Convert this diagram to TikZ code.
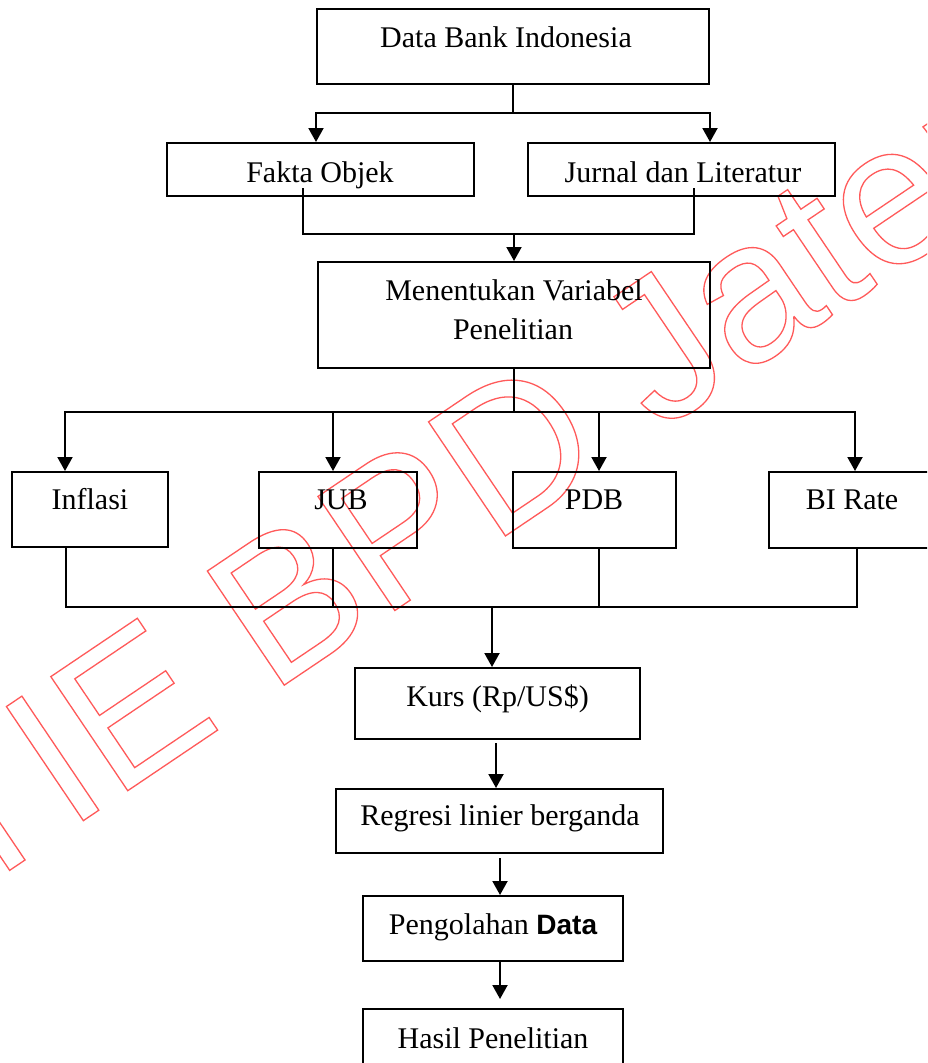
\documentclass[tikz,border=0pt]{standalone}
\usepackage{fontspec}
\setmainfont{Liberation Serif}
\setsansfont{Liberation Sans}
\newfontfamily\wmfont{Liberation Sans}
\usetikzlibrary{arrows.meta}
\definecolor{wmred}{RGB}{255,90,90}
\newcommand\wmoutline[1]{\special{pdf:literal direct 1 Tr 1.3 w}#1\special{pdf:literal direct 0 Tr}}
\begin{document}
\begin{tikzpicture}[x=1pt,y=-1pt,
  box/.style={draw, line width=2pt, inner sep=0pt},
  lbl/.style={anchor=base, inner sep=0pt, font=\fontsize{30}{39}\selectfont},
  arr/.style={line width=2pt,-{Triangle[width=15pt,length=14pt]}},
  conn/.style={line width=2pt},
  wm/.style={anchor=base west, rotate=34, inner sep=0pt, text=wmred, font=\wmfont\fontsize{200}{240}\selectfont}]
\useasboundingbox (0,0) rectangle (927,1063);
\clip (0,0) rectangle (927,1063);
\fill[white] (0,0) rectangle (927,1063);
% watermark
\node[wm] (wmk) at (-144,974) {\wmoutline{STIE BPD Jateng}};
% boxes
\node[box, minimum width=392pt, minimum height=75pt] (a) at (513,46.5) {};
\node[box, minimum width=307pt, minimum height=53pt] (b) at (320.5,169.5) {};
\node[box, minimum width=307pt, minimum height=53pt] (c) at (681.5,169.5) {};
\node[box, minimum width=392pt, minimum height=106pt] (d) at (514,315) {};
\node[box, minimum width=156pt, minimum height=75pt] (e) at (90,509.5) {};
\node[box, minimum width=158pt, minimum height=76pt] (f) at (338,510) {};
\node[box, minimum width=163pt, minimum height=76pt] (g) at (594.5,510) {};
\node[box, minimum width=166pt, minimum height=76pt] (h) at (852,510) {};
\node[box, minimum width=285pt, minimum height=71pt] (k) at (497.5,703.5) {};
\node[box, minimum width=327pt, minimum height=64pt] (r) at (499.5,821) {};
\node[box, minimum width=260pt, minimum height=65pt] (p) at (493,928.5) {};
\node[box, minimum width=260pt, minimum height=70pt] (s) at (493,1044) {};
% labels
\node[lbl] (at) at (506,47) {Data Bank Indonesia};
\node[lbl] (bt) at (320,182) {Fakta Objek};
\node[lbl] (ct) at (683,182) {Jurnal dan Literatur};
\node[lbl] (dt1) at (514,300) {Menentukan Variabel};
\node[lbl] (dt2) at (513,339) {Penelitian};
\node[lbl] (et) at (90,509) {Inflasi};
\node[lbl] (ft) at (341,509) {JUB};
\node[lbl] (gt) at (594,509) {PDB};
\node[lbl] (ht) at (852,509) {BI Rate};
\node[lbl] (kt) at (497.5,706) {Kurs (Rp/US\$)};
\node[lbl] (rt) at (500,825) {Regresi linier berganda};
\node[lbl] (pt) at (493,934) {Pengolahan {\sffamily\bfseries\fontsize{28}{34}\selectfont Data}};
\node[lbl] (st) at (493,1048) {Hasil Penelitian};
% connectors top
\coordinate (j1) at (513,113);
\draw[conn] (a.south) -- (j1);
\draw[arr] (j1) -| (b.north -| a.south west);
\draw[arr] (j1) -| (c.north -| a.south east);
\coordinate (bf) at (303,188);
\coordinate (cf) at (694,188);
\coordinate (j2) at (514,234);
\draw[conn] (bf) |- (cf |- j2) -- (cf);
\draw[arr] (j2) -- (d.north);
% connectors middle
\coordinate (j3) at (514,412);
\draw[conn] (d.south) -- (j3);
\draw[arr] (j3) -| ([xshift=-25pt]e.north);
\draw[arr] (j3) -| ([xshift=-5pt]f.north);
\draw[arr] (j3) -| ([xshift=4.5pt]g.north);
\draw[arr] (j3) -| ([xshift=3pt]h.north);
% connectors bottom
\coordinate (j4) at (492,607);
\coordinate (e1) at ([xshift=-24pt]e.south);
\coordinate (f1) at ([xshift=-5pt]f.south);
\coordinate (g1) at ([xshift=4.5pt]g.south);
\coordinate (h1) at ([xshift=5pt]h.south);
\draw[conn] (e1) |- (h1 |- j4) -- (h1);
\draw[conn] (f1) -- (f1 |- j4);
\draw[conn] (g1) -- (g1 |- j4);
\draw[arr] (j4) -- (j4 |- k.north);
\coordinate (k1) at ([xshift=-1.5pt,yshift=-3pt]k.south);
\draw[arr] (k1) -- (k1 |- r.north);
\coordinate (r1) at ([xshift=0.5pt,yshift=-4pt]r.south);
\draw[arr] (r1) -- (r1 |- p.north);
\coordinate (p1) at ([xshift=7pt]p.south);
\draw[arr, shorten >=9pt] (p1) -- (p1 |- s.north);
\end{tikzpicture}
\end{document}
